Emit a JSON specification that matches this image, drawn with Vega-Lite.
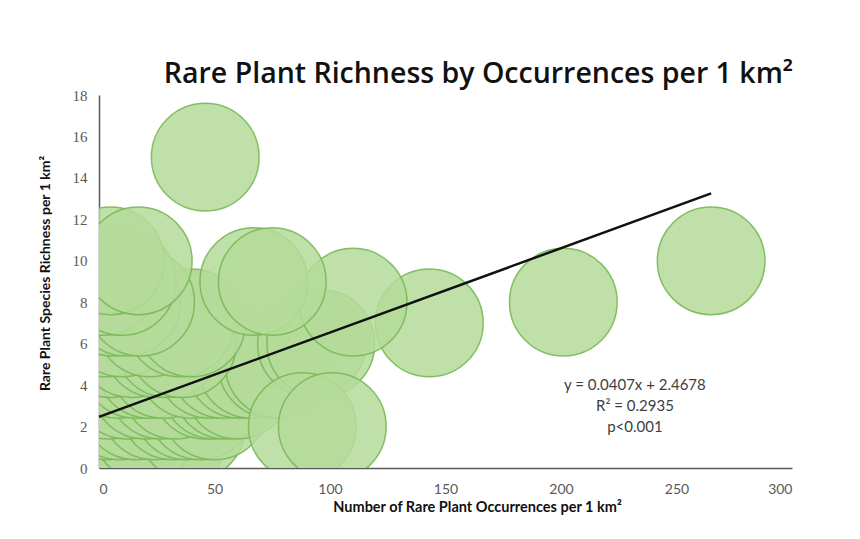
{
  "$schema": "https://vega.github.io/schema/vega-lite/v6.json",
  "autosize": "none",
  "width": 693,
  "height": 373,
  "padding": {"left": 99, "top": 95, "right": 68, "bottom": 71},
  "background": "white",
  "config": {"view": {"stroke": null}},
  "title": {
    "text": "Rare Plant Richness by Occurrences per 1 km²",
    "font": "Open Sans",
    "fontSize": 28.5,
    "fontWeight": 600,
    "color": "#111111",
    "anchor": "middle",
    "frame": "group",
    "dx": 33,
    "offset": 0
  },
  "datasets": {
    "pts": [
      {"occ": 46, "rich": 15}, {"occ": 265, "rich": 10}, {"occ": 201, "rich": 8}, {"occ": 143, "rich": 7},
      {"occ": 2, "rich": 0}, {"occ": 5, "rich": 1}, {"occ": 15, "rich": 1}, {"occ": 30, "rich": 1},
      {"occ": 2, "rich": 2}, {"occ": 10, "rich": 2}, {"occ": 20, "rich": 2}, {"occ": 40, "rich": 2},
      {"occ": 3, "rich": 3}, {"occ": 9, "rich": 3}, {"occ": 16, "rich": 3}, {"occ": 24, "rich": 3},
      {"occ": 32, "rich": 3}, {"occ": 38, "rich": 3}, {"occ": 44, "rich": 3}, {"occ": 50, "rich": 3},
      {"occ": 4, "rich": 4}, {"occ": 12, "rich": 4}, {"occ": 20, "rich": 4}, {"occ": 27, "rich": 4},
      {"occ": 33, "rich": 4}, {"occ": 46, "rich": 4}, {"occ": 50, "rich": 4}, {"occ": 55, "rich": 4},
      {"occ": 60, "rich": 4},
      {"occ": 8, "rich": 5}, {"occ": 16, "rich": 5}, {"occ": 22, "rich": 5}, {"occ": 28, "rich": 5},
      {"occ": 40, "rich": 5}, {"occ": 48, "rich": 5}, {"occ": 54, "rich": 5}, {"occ": 61, "rich": 5},
      {"occ": 66, "rich": 5}, {"occ": 75, "rich": 5}, {"occ": 78, "rich": 5},
      {"occ": 5, "rich": 6}, {"occ": 14, "rich": 6}, {"occ": 25, "rich": 6}, {"occ": 30, "rich": 6},
      {"occ": 36, "rich": 6}, {"occ": 92, "rich": 6}, {"occ": 96, "rich": 6},
      {"occ": 3, "rich": 7}, {"occ": 10, "rich": 7}, {"occ": 22, "rich": 7}, {"occ": 35, "rich": 7},
      {"occ": 40, "rich": 7},
      {"occ": 6, "rich": 8}, {"occ": 12, "rich": 8}, {"occ": 18, "rich": 8}, {"occ": 110, "rich": 8},
      {"occ": 2, "rich": 9}, {"occ": 10, "rich": 9}, {"occ": 67, "rich": 9}, {"occ": 75, "rich": 9},
      {"occ": 5, "rich": 10}, {"occ": 17, "rich": 10},
      {"occ": 88, "rich": 2}, {"occ": 101, "rich": 2}
    ],
    "trend": [
      {"occ": 0, "rich": 2.4678},
      {"occ": 265, "rich": 13.253}
    ],
    "ann": [
      {"occ": 232, "rich": 4, "label": "y = 0.0407x + 2.4678"},
      {"occ": 232, "rich": 3, "label": "R² = 0.2935"},
      {"occ": 232, "rich": 2, "label": "p<0.001"}
    ]
  },
  "encoding": {
    "x": {
      "field": "occ",
      "type": "quantitative",
      "scale": {"domain": [0, 300], "nice": false, "zero": false},
      "axis": {
        "title": "Number of Rare Plant Occurrences per 1 km²",
        "titleFont": "Lato",
        "titleFontSize": 14.5,
        "titleFontWeight": "bold",
        "titleColor": "#111111",
        "titleX": 378,
        "titleY": 39,
        "titleBaseline": "middle",
        "values": [0, 50, 100, 150, 200, 250, 300],
        "grid": false,
        "ticks": false,
        "domainColor": "#595959",
        "domainWidth": 1.5,
        "labelFont": "Lato",
        "labelFontSize": 14,
        "labelColor": "#595959",
        "labelPadding": 21,
        "labelBaseline": "middle",
        "labelOverlap": false
      }
    },
    "y": {
      "field": "rich",
      "type": "quantitative",
      "scale": {"domain": [0, 18], "nice": false, "zero": false},
      "axis": {
        "title": "Rare Plant Species Richness per 1 km²",
        "titleFont": "Lato",
        "titleFontSize": 14,
        "titleFontWeight": "bold",
        "titleColor": "#111111",
        "titleX": -54,
        "titleY": 178,
        "titleBaseline": "middle",
        "values": [0, 2, 4, 6, 8, 10, 12, 14, 16, 18],
        "grid": false,
        "ticks": false,
        "domainColor": "#595959",
        "domainWidth": 1.5,
        "labelFont": "Liberation Serif",
        "labelFontSize": 15,
        "labelColor": "#595959",
        "labelPadding": 12,
        "labelOverlap": false
      }
    }
  },
  "layer": [
    {
      "data": {"name": "pts"},
      "mark": {
        "type": "point",
        "shape": "circle",
        "filled": true,
        "size": 11600,
        "fill": "#b4db9a",
        "fillOpacity": 0.85,
        "stroke": "#7ab856",
        "strokeWidth": 1.5,
        "strokeOpacity": 0.9,
        "opacity": 1,
        "clip": true
      }
    },
    {
      "data": {"name": "trend"},
      "mark": {"type": "line", "color": "#111111", "strokeWidth": 2.5}
    },
    {
      "data": {"name": "ann"},
      "mark": {"type": "text", "font": "Lato", "fontSize": 15, "color": "#404040", "align": "center", "baseline": "middle"},
      "encoding": {"text": {"field": "label", "type": "nominal"}}
    }
  ]
}
